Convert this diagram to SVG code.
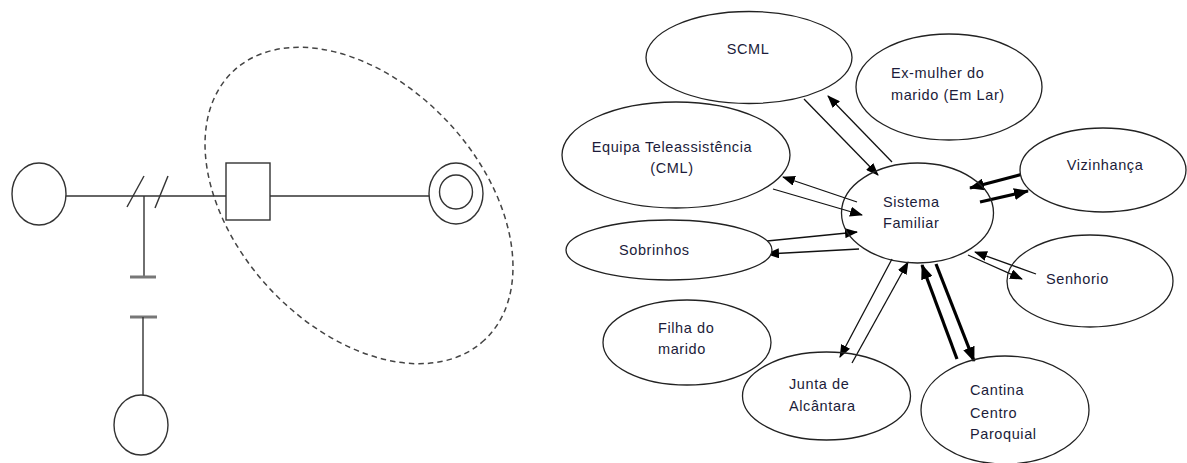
<svg xmlns="http://www.w3.org/2000/svg" width="1187" height="463" viewBox="0 0 1187 463">
<style>
.ln{stroke:#333;stroke-width:1.4;fill:none}
.shape{fill:#fff;stroke:#333;stroke-width:1.4}
.bar{stroke:#777;stroke-width:3}
.node{fill:#fff;stroke:#222;stroke-width:1.3}
.t{font-family:"Liberation Sans",Arial,sans-serif;font-size:14.5px;letter-spacing:0.6px;fill:#1c1c3a}
.c{stroke:#111;stroke-width:1.3;fill:none;marker-end:url(#ah)}
.ck{stroke:#000;stroke-width:3.2;fill:none;marker-end:url(#ahk)}
</style>
<defs>
<marker id="ah" markerUnits="userSpaceOnUse" markerWidth="13" markerHeight="10" refX="12" refY="5" orient="auto">
<path d="M0,0 L13,5 L0,10 z" fill="#000"/>
</marker>
<marker id="ahk" markerUnits="userSpaceOnUse" markerWidth="15" markerHeight="12" refX="14" refY="6" orient="auto">
<path d="M0,0 L15,6 L0,12 z" fill="#000"/>
</marker>
</defs>
<rect width="1187" height="463" fill="#fff"/>

<g id="genogram">
<ellipse cx="359" cy="205.5" rx="184" ry="122" transform="rotate(47 359 205.5)" fill="none" stroke="#444" stroke-width="1.5" stroke-dasharray="5.5,4"/>
<line class="ln" x1="66" y1="196" x2="226" y2="196"/>
<line class="ln" x1="270" y1="196" x2="429" y2="196"/>
<line class="ln" x1="127" y1="207" x2="144" y2="176"/>
<line class="ln" x1="155" y1="208" x2="168" y2="176"/>
<line class="ln" x1="144" y1="196" x2="144" y2="277"/>
<line class="bar" x1="130" y1="277" x2="156" y2="277"/>
<line class="bar" x1="130" y1="317" x2="157" y2="317"/>
<line class="ln" x1="143" y1="317" x2="143" y2="395"/>
<g id="g-left-circle"><ellipse class="shape" cx="39" cy="194" rx="27" ry="31"/></g>
<g id="g-bottom-circle"><ellipse class="shape" cx="141" cy="425" rx="27" ry="30"/></g>
<g id="g-square"><rect class="shape" x="226" y="163" width="44" height="57"/></g>
<g id="g-double-circle">
<ellipse class="shape" cx="456" cy="193.5" rx="27" ry="30.5"/>
<ellipse class="shape" cx="456" cy="192" rx="16.5" ry="17"/>
</g>
</g>

<g id="connectors">
<line class="c" x1="804" y1="99" x2="878" y2="175"/>
<line class="c" x1="892" y1="162" x2="828" y2="96"/>
<line class="c" x1="857" y1="202" x2="783" y2="177"/>
<line class="c" x1="773" y1="189" x2="862" y2="215"/>
<line class="c" x1="757" y1="242" x2="857" y2="232"/>
<line class="c" x1="859" y1="249" x2="767" y2="254"/>
<line class="c" x1="892" y1="259" x2="840" y2="357"/>
<line class="c" x1="852" y1="363" x2="908" y2="262"/>
<line class="ck" x1="957" y1="359" x2="922" y2="265"/>
<line class="ck" x1="936" y1="264" x2="974" y2="361"/>
<line class="c" x1="1036" y1="274" x2="975" y2="252"/>
<line class="c" x1="968" y1="255" x2="1022" y2="279"/>
<line class="ck" x1="1023" y1="174" x2="970" y2="188"/>
<line class="ck" x1="980" y1="202" x2="1028" y2="191"/>
</g>

<g id="n-scml"><ellipse class="node" cx="749" cy="57.5" rx="103" ry="46"/><text class="t" x="748" y="54" text-anchor="middle">SCML</text></g>
<g id="n-exmulher"><ellipse class="node" cx="949" cy="87" rx="93" ry="53"/><text class="t" x="891" y="78">Ex-mulher do</text><text class="t" x="891" y="100">marido (Em Lar)</text></g>
<g id="n-equipa"><ellipse class="node" cx="676" cy="155" rx="114" ry="53"/><text class="t" x="672" y="152" text-anchor="middle">Equipa Teleassistência</text><text class="t" x="672" y="173" text-anchor="middle">(CML)</text></g>
<g id="n-vizinhanca"><ellipse class="node" cx="1103" cy="170" rx="83" ry="42"/><text class="t" x="1105" y="170" text-anchor="middle">Vizinhança</text></g>
<g id="n-sistema"><ellipse class="node" cx="917.5" cy="213" rx="76" ry="50" fill-opacity="0"/><text class="t" x="883" y="207">Sistema</text><text class="t" x="883" y="228">Familiar</text></g>
<g id="n-sobrinhos"><ellipse class="node" cx="669" cy="250" rx="103" ry="30"/><text class="t" x="619" y="255">Sobrinhos</text></g>
<g id="n-senhorio"><ellipse class="node" cx="1090" cy="281" rx="83" ry="46" fill-opacity="0"/><text class="t" x="1046" y="284">Senhorio</text></g>
<g id="n-filha"><ellipse class="node" cx="687" cy="342.5" rx="84" ry="42.5"/><text class="t" x="658" y="333">Filha do</text><text class="t" x="658" y="354">marido</text></g>
<g id="n-junta"><ellipse class="node" cx="826.5" cy="396" rx="84" ry="44" fill-opacity="0"/><text class="t" x="789" y="389">Junta de</text><text class="t" x="789" y="411">Alcântara</text></g>
<g id="n-cantina"><ellipse class="node" cx="1005" cy="410" rx="84" ry="54" fill-opacity="0"/><text class="t" x="970" y="395">Cantina</text><text class="t" x="970" y="418">Centro</text><text class="t" x="970" y="439">Paroquial</text></g>
</svg>
